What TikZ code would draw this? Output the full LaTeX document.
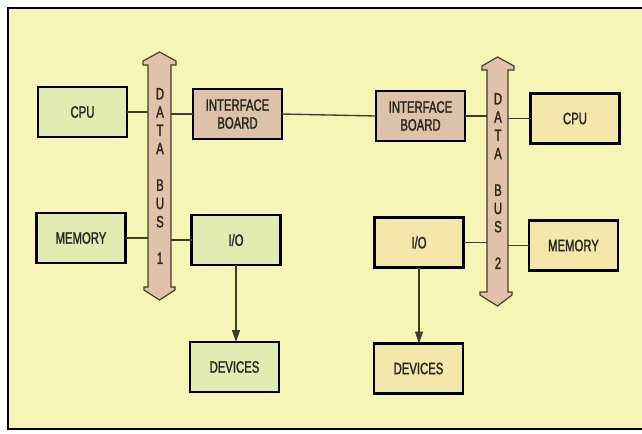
\documentclass[tikz,border=0pt]{standalone}
\usepackage{fontspec}
\newfontfamily\lblfont{Liberation Sans}[FakeStretch=0.69, FakeBold=1.5]
\usetikzlibrary{arrows.meta}
\definecolor{bgc}{HTML}{F7F5B6}
\definecolor{greenbox}{HTML}{E2EBB2}
\definecolor{tanbox}{HTML}{F3E7AA}
\definecolor{pinkbox}{HTML}{DCC2A8}
\definecolor{busc}{HTML}{E0C1A9}
\definecolor{linec}{HTML}{3E3E28}
\definecolor{txtc}{HTML}{26261C}
\tikzset{
  box/.style={draw=black, line width=0.75mm, minimum width=26.7mm, minimum height=15mm,
    inner sep=0pt, outer sep=0pt, align=center, text=txtc,
    font=\lblfont\fontsize{14}{15.2}\selectfont},
  leftbox/.style={box, fill=greenbox},
  rightbox/.style={box, fill=tanbox},
  ifbox/.style={box, fill=pinkbox},
  busshape/.style={fill=busc, draw=linec, line width=0.35mm, line join=miter},
  buslabel/.style={align=center, inner sep=0pt, text=txtc,
    font=\lblfont\fontsize{14}{15.6}\selectfont},
  conn/.style={draw=linec, line width=0.4mm},
  flow/.style={conn, -{Triangle[length=3.6mm, width=2.4mm]}},
  frame/.style={draw=black, line width=0.6mm, fill=bgc}
}
\begin{document}
\begin{tikzpicture}[x=0.3mm, y=-0.3mm]
\useasboundingbox (0,0) rectangle (642,433);
\clip (0,0) rectangle (642,433);
\fill[white] (0,0) rectangle (642,433);
\draw[frame] (8,8) rectangle (660,429);

% bus 1
\draw[busshape] (148,65) -- (143,65) -- (143,61) -- (159.5,52) -- (176,61) -- (176,65) -- (171,65)
  -- (171,287) -- (175,287) -- (175,290) -- (159.5,300) -- (144,290) -- (144,287) -- (148,287) -- cycle;
\coordinate (b1l) at (148,176);
\coordinate (b1r) at (171,176);
\node[buslabel] (bus1) at (160,176) {D\\A\\T\\A\\~\\B\\U\\S\\~\\1};

% bus 2
\draw[busshape] (487,70) -- (482,70) -- (482,66) -- (497.5,57) -- (514,66) -- (514,70) -- (508,70)
  -- (508,292) -- (512,292) -- (512,295) -- (497.5,306) -- (480,295) -- (480,292) -- (487,292) -- cycle;
\coordinate (b2l) at (487,181);
\coordinate (b2r) at (508,181);
\node[buslabel] (bus2) at (498,181) {D\\A\\T\\A\\~\\B\\U\\S\\~\\2};

% left boxes
\node[leftbox] (cpu1) at (82.5,112) {CPU};
\node[ifbox] (ib1) at (237.5,114) {INTERFACE\\BOARD};
\node[leftbox] (mem1) at (81,238) {MEMORY};
\node[leftbox] (io1) at (236,240) {I/O};
\node[leftbox] (dev1) at (234.5,367) {DEVICES};

% right boxes
\node[ifbox] (ib2) at (420.5,116) {INTERFACE\\BOARD};
\node[rightbox] (cpu2) at (575,118.5) {CPU};
\node[rightbox] (io2) at (419,242.5) {I/O};
\node[rightbox] (mem2) at (573.5,245.5) {MEMORY};
\node[rightbox] (dev2) at (418.5,368.5) {DEVICES};

% connectors
\draw[conn] (cpu1.east) -- (cpu1.east -| b1l);
\draw[conn] (ib1.west) -- (ib1.west -| b1r);
\draw[conn] (mem1.east) -- (mem1.east -| b1l);
\draw[conn] (io1.west) -- (io1.west -| b1r);
\draw[conn] (ib1.east) -- (ib2.west);
\draw[conn] (ib2.east) -- (ib2.east -| b2l);
\draw[conn] (cpu2.west) -- (cpu2.west -| b2r);
\draw[conn] (io2.east) -- (io2.east -| b2l);
\draw[conn] (mem2.west) -- (mem2.west -| b2r);
\draw[flow] (io1.south) -- (dev1.north -| io1.south);
\draw[flow] (io2.south) -- (dev2.north -| io2.south);
\end{tikzpicture}
\end{document}
